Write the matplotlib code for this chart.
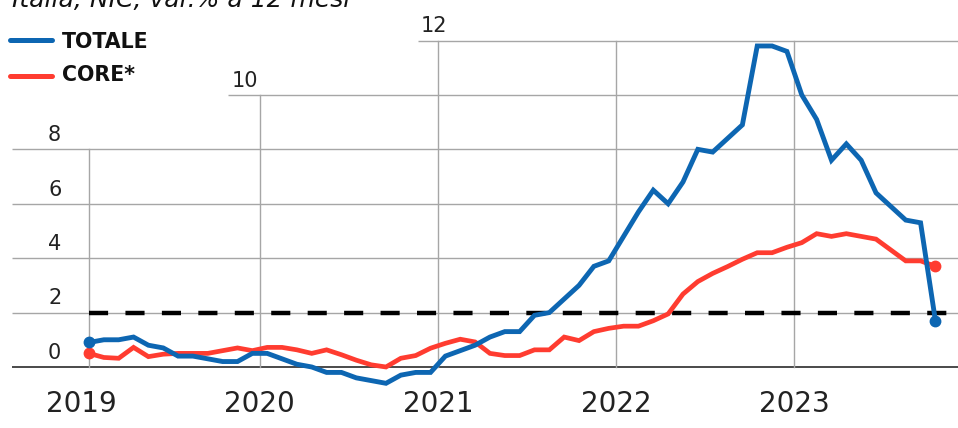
import matplotlib
matplotlib.use("Agg")
import matplotlib.pyplot as plt
from matplotlib.lines import Line2D

# Inflazione Italia, indice NIC, variazione % su 12 mesi (gen 2019 - ott 2023)
years = ["2019", "2020", "2021", "2022", "2023"]

totale = [0.9, 1.0, 1.0, 1.1, 0.8, 0.7, 0.4, 0.4, 0.3, 0.2, 0.2, 0.5,
          0.5, 0.3, 0.1, 0.0, -0.2, -0.2, -0.4, -0.5, -0.6, -0.3, -0.2, -0.2,
          0.4, 0.6, 0.8, 1.1, 1.3, 1.3, 1.9, 2.0, 2.5, 3.0, 3.7, 3.9,
          4.8, 5.7, 6.5, 6.0, 6.8, 8.0, 7.9, 8.4, 8.9, 11.8, 11.8, 11.6,
          10.0, 9.1, 7.6, 8.2, 7.6, 6.4, 5.9, 5.4, 5.3, 1.7]

core = [0.5, 0.35, 0.32, 0.72, 0.38, 0.47, 0.5, 0.5, 0.5, 0.6, 0.7, 0.6,
        0.72, 0.72, 0.63, 0.5, 0.63, 0.45, 0.25, 0.08, 0.0, 0.32, 0.42, 0.69,
        0.87, 1.02, 0.92, 0.5, 0.42, 0.42, 0.63, 0.63, 1.1, 0.97, 1.3, 1.42,
        1.5, 1.5, 1.7, 1.95, 2.68, 3.14, 3.44, 3.69, 3.96, 4.2, 4.2, 4.4,
        4.57, 4.9, 4.8, 4.9, 4.8, 4.7, 4.3, 3.9, 3.9, 3.7]

target = 2.0

yticks = [0, 2, 4, 6, 8, 10, 12]
# where each horizontal line begins (in months from Jan 2019)
grid_start = [-5.2, -5.2, -5.2, -5.2, -5.2, 9.36, 22.15]
# label x position for each tick
label_x = [-2.76, -2.76, -2.76, -2.76, -2.76, 9.63, 22.36]

BLUE = "#0d66b2"
RED = "#ff3c30"
GRID = "#a6a6a6"

months = list(range(len(totale)))

fig = plt.figure(figsize=(9.58, 4.28), dpi=100)
ax = fig.add_axes([0, 0, 1, 1])
ax.set_xlim(-5.993, 58.52)
ax.set_ylim(-2.243, 13.49)
ax.axis("off")

# horizontal grid + labels
for v, x0, lx in zip(yticks, grid_start, label_x):
    col = "#3c3c3c" if v == 0 else GRID
    lw = 1.3 if v == 0 else 1.0
    ax.plot([x0, 60], [v, v], color=col, lw=lw, zorder=1, solid_capstyle="butt")
    ax.text(lx, v + 0.3, str(v), fontsize=15, color="#222222",
            ha="left", va="baseline")

# vertical year lines, clipped to the data start for the first year
for i, yr in enumerate(years):
    pos = 12 * i - 0.5
    line_x = max(pos, 0)
    top = max(v for v, s in zip(yticks, grid_start) if s <= line_x)
    ax.plot([line_x, line_x], [0, top], color=GRID, lw=1.0, zorder=1)
    ax.text(pos, -1.65, yr, fontsize=20, color="#222222",
            ha="center", va="baseline")

# 2% reference
ax.plot([0, 60], [target, target], color="black", lw=3.2,
        dashes=(4.3, 3.9), zorder=2)

ax.plot(months, core, color=RED, lw=3.4, zorder=3, solid_joinstyle="miter")
ax.plot(months, totale, color=BLUE, lw=3.5, zorder=4, solid_joinstyle="miter")
for series, col, z in [(core, RED, 3), (totale, BLUE, 4)]:
    ax.plot([months[0], months[-1]], [series[0], series[-1]], "o",
            color=col, ms=7.5, zorder=z)

# legend
H = 428.0
for y_line, y_text, col, lab in [(40, 47.5, BLUE, "TOTALE"),
                                 (75.7, 81, RED, "CORE*")]:
    fig.add_artist(Line2D([10 / 958, 52 / 958], [1 - y_line / H, 1 - y_line / H],
                          transform=fig.transFigure, color=col, lw=3.6,
                          solid_capstyle="round"))
    fig.text(62 / 958, 1 - y_text / H, lab, fontsize=14.8, fontweight="bold",
             color="#111111", ha="left", va="baseline")

fig.text(12 / 958, 1 - 7 / H, "Italia, NIC, var.% a 12 mesi", fontsize=18,
         style="italic", color="#111111", ha="left", va="baseline")

fig.savefig("out.png", dpi=100)
